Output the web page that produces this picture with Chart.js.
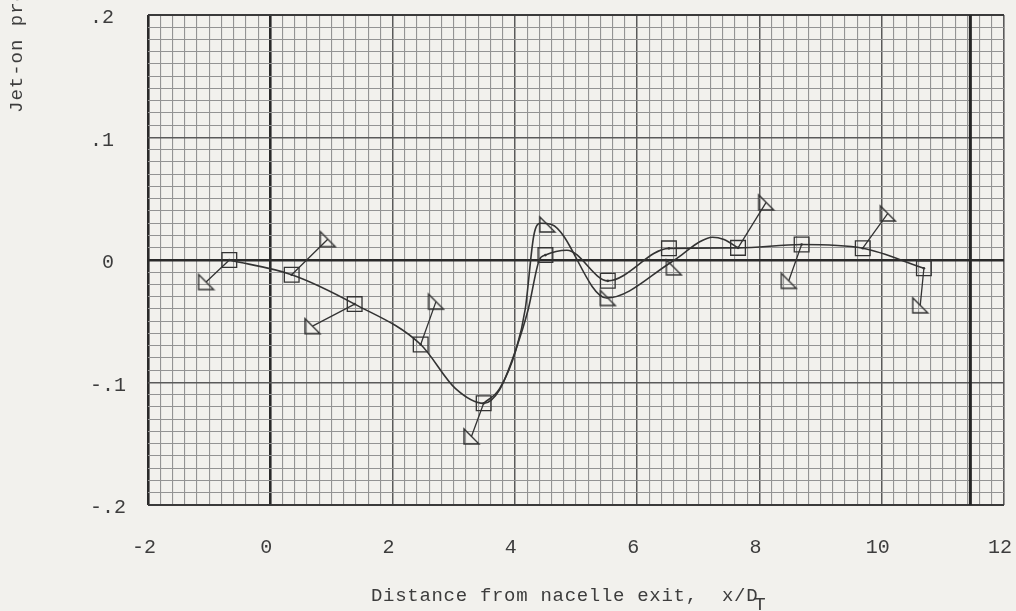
<!DOCTYPE html>
<html>
<head>
<meta charset="utf-8">
<script src="https://cdn.jsdelivr.net/npm/chart.js@4.4.1/dist/chart.umd.min.js"></script>
<style>
  html, body { margin: 0; padding: 0; background: #f2f1ed; }
  #wrap { width: 1016px; height: 611px; position: relative; overflow: hidden; }
  canvas { display: block; }
</style>
</head>
<body>
<div id="wrap"><canvas id="chart" width="1016" height="611"></canvas></div>
<script>
// Square symbols: x/D_T stations and pressure coefficients
const squareX = [-0.67, 0.35, 1.38, 2.46, 3.49, 4.50, 5.52, 6.52, 7.65, 8.69, 9.69, 10.69];
const squareY = [0.000, -0.012, -0.036, -0.069, -0.117, 0.004, -0.017, 0.0095, 0.0099, 0.0126, 0.0096, -0.0067];

// Triangle symbols (one per square station)
const triangleX = [-1.05, 0.94, 0.69, 2.71, 3.29, 4.53, 5.52, 6.60, 8.11, 8.48, 10.10, 10.63];
const triangleY = [-0.018, 0.017, -0.054, -0.034, -0.144, 0.029, -0.031, -0.006, 0.047, -0.017, 0.038, -0.037];

// Stations whose triangle is tied back to its square by a leader line
const leaderIndex = [0, 1, 2, 3, 4, 8, 9, 10, 11];

// Faired curve through the square data
const fairSquareX = [-0.67, 0.35, 1.38, 2.46, 3.03, 3.49, 3.75, 4.01, 4.22, 4.40, 4.50, 4.85, 5.52, 6.52, 7.65, 8.69, 9.69, 10.69];
const fairSquareY = [0.000, -0.012, -0.036, -0.069, -0.105, -0.117, -0.106, -0.074, -0.040, 0.000, 0.004, 0.008, -0.017, 0.0095, 0.0099, 0.0126, 0.0096, -0.0067];

// Faired curve through the triangle data
const fairTriangleX = [3.49, 3.75, 4.02, 4.17, 4.31, 4.42, 4.60, 5.50, 6.55, 6.75, 7.01, 7.23, 7.42, 7.65];
const fairTriangleY = [-0.117, -0.105, -0.073, -0.040, 0.020, 0.030, 0.029, -0.031, -0.002, 0.005, 0.0145, 0.0186, 0.0167, 0.0099];

// Heavy station line drawn across the grid
const stationLineX = 11.45;

// Axis ranges and labelled ticks
const xMin = -2, xMax = 12, xMinorStep = 0.2;
const yMin = -0.2, yMax = 0.2, yMinorStep = 0.01;
const xTickValues = [-2, 0, 2, 4, 6, 8, 10, 12];
const xTickText = ['-2', '0', '2', '4', '6', '8', '10', '12'];
const yTickValues = [0.2, 0.1, 0, -0.1, -0.2];
const yTickText = ['.2', '.1', ' 0', '-.1', '-.2'];

const xTitle = 'Distance from nacelle exit,  x/D';
const xTitleSub = 'T';
const yTitle = 'Jet-on pressure coefficient';

const INK = '#333333';
const TYPE = '#3d3d3d';
const FONT = '"Liberation Mono", "DejaVu Sans Mono", monospace';

const pts = (xs, ys) => xs.map((x, i) => ({ x: x, y: ys[i] }));

// Leader segments: square -> triangle, separated by gaps
const leaderData = [];
leaderIndex.forEach(i => {
  leaderData.push({ x: squareX[i], y: squareY[i] });
  leaderData.push({ x: triangleX[i], y: triangleY[i] });
  leaderData.push({ x: triangleX[i], y: null });
});

// Right-angled triangle marker
function triangleSprite(size, color, lw) {
  const c = document.createElement('canvas');
  c.width = size + 4; c.height = size + 4;
  const g = c.getContext('2d');
  g.strokeStyle = color; g.lineWidth = lw; g.lineJoin = 'miter';
  g.beginPath();
  g.moveTo(2, 2);
  g.lineTo(2, size + 2);
  g.lineTo(size + 2, size + 2);
  g.closePath();
  g.stroke();
  return c;
}
const triMarker = triangleSprite(15, INK, 1.4);

const near = (a, b) => Math.abs(a - b) < 1e-6;
const isMultiple = (v, step) => Math.abs(v / step - Math.round(v / step)) < 1e-6;

const paper = {
  id: 'paper',
  beforeDraw(chart) {
    const ctx = chart.ctx;
    ctx.save();
    ctx.fillStyle = '#f2f1ed';
    ctx.fillRect(0, 0, chart.width, chart.height);
    ctx.restore();
  }
};

const typedTitles = {
  id: 'typedTitles',
  afterDraw(chart) {
    const ctx = chart.ctx;
    ctx.save();
    ctx.fillStyle = TYPE;
    ctx.font = '19px ' + FONT;
    ctx.letterSpacing = '0.7px';
    ctx.textAlign = 'left';
    ctx.textBaseline = 'alphabetic';
    const x0 = 371;
    ctx.fillText(xTitle, x0, 601);
    const w = ctx.measureText(xTitle).width;
    ctx.fillText(xTitleSub, x0 + w - 4, 610);
    ctx.letterSpacing = '1px';
    ctx.translate(22, 113);
    ctx.rotate(-Math.PI / 2);
    ctx.fillText(yTitle, 0, 0);
    ctx.restore();
  }
};

new Chart(document.getElementById('chart'), {
  type: 'scatter',
  data: {
    datasets: [
      {
        data: pts(squareX, squareY),
        pointStyle: 'rect', pointRadius: 10.4, pointHoverRadius: 10.4,
        borderColor: INK, borderWidth: 1.3, backgroundColor: 'rgba(0,0,0,0)',
        showLine: false
      },
      {
        data: pts(squareX, squareY),
        pointStyle: 'circle', pointRadius: 1.3, pointHoverRadius: 1.3,
        borderColor: INK, borderWidth: 0, backgroundColor: INK,
        showLine: false
      },
      {
        data: pts(triangleX, triangleY),
        pointStyle: triMarker, pointRadius: 9, pointHoverRadius: 9,
        showLine: false
      },
      {
        data: leaderData,
        showLine: true, spanGaps: false,
        borderColor: INK, borderWidth: 1.3, pointRadius: 0, tension: 0
      },
      {
        data: pts(fairSquareX, fairSquareY),
        showLine: true, cubicInterpolationMode: 'monotone',
        borderColor: INK, borderWidth: 1.6, pointRadius: 0
      },
      {
        data: pts(fairTriangleX, fairTriangleY),
        showLine: true, cubicInterpolationMode: 'monotone',
        borderColor: INK, borderWidth: 1.6, pointRadius: 0
      },
      {
        data: [{ x: stationLineX, y: yMin }, { x: stationLineX, y: yMax }],
        showLine: true, borderColor: '#262626', borderWidth: 3, pointRadius: 0
      }
    ]
  },
  options: {
    responsive: false,
    animation: false,
    devicePixelRatio: 1,
    layout: { padding: { top: 14, left: 90, right: 11, bottom: 0 } },
    plugins: { legend: { display: false }, tooltip: { enabled: false } },
    events: [],
    scales: {
      x: {
        type: 'linear', min: xMin, max: xMax,
        afterFit(scale) { scale.height = 106; },
        border: { display: false },
        grid: {
          drawTicks: true, tickLength: 31, tickColor: 'rgba(0,0,0,0)',
          color(ctx) {
            const v = ctx.tick.value;
            if (near(v, 0) || near(v, xMin)) return '#2a2a2a';
            if (isMultiple(v, 2)) return '#5a5a5a';
            return '#939393';
          },
          lineWidth(ctx) {
            const v = ctx.tick.value;
            if (near(v, 0) || near(v, xMin)) return 2.6;
            if (near(v, xMax)) return 1.6;
            if (isMultiple(v, 2)) return 1.5;
            return 1.1;
          }
        },
        ticks: {
          stepSize: xMinorStep, autoSkip: false, maxRotation: 0, minRotation: 0,
          padding: 0, labelOffset: -4,
          color: TYPE, font: { family: FONT, size: 20 },
          callback(value) {
            const i = xTickValues.findIndex(v => near(v, value));
            return i >= 0 ? xTickText[i] : '';
          }
        }
      },
      y: {
        type: 'linear', min: yMin, max: yMax,
        afterFit(scale) { scale.width = 58; },
        border: { display: false },
        grid: {
          drawTicks: false,
          color(ctx) {
            const v = ctx.tick.value;
            if (near(v, 0)) return '#2a2a2a';
            if (near(v, yMax) || near(v, yMin)) return '#3a3a3a';
            if (isMultiple(v, 0.1)) return '#5a5a5a';
            return '#939393';
          },
          lineWidth(ctx) {
            const v = ctx.tick.value;
            if (near(v, 0)) return 2.4;
            if (near(v, yMax) || near(v, yMin)) return 2;
            if (isMultiple(v, 0.1)) return 1.5;
            return 1.1;
          }
        },
        ticks: {
          stepSize: yMinorStep, autoSkip: false, crossAlign: 'far', labelOffset: 3,
          color: TYPE, font: { family: FONT, size: 20 },
          callback(value) {
            const i = yTickValues.findIndex(v => near(v, value));
            return i >= 0 ? yTickText[i] : '';
          }
        }
      }
    }
  },
  plugins: [paper, typedTitles]
});
</script>
</body>
</html>
